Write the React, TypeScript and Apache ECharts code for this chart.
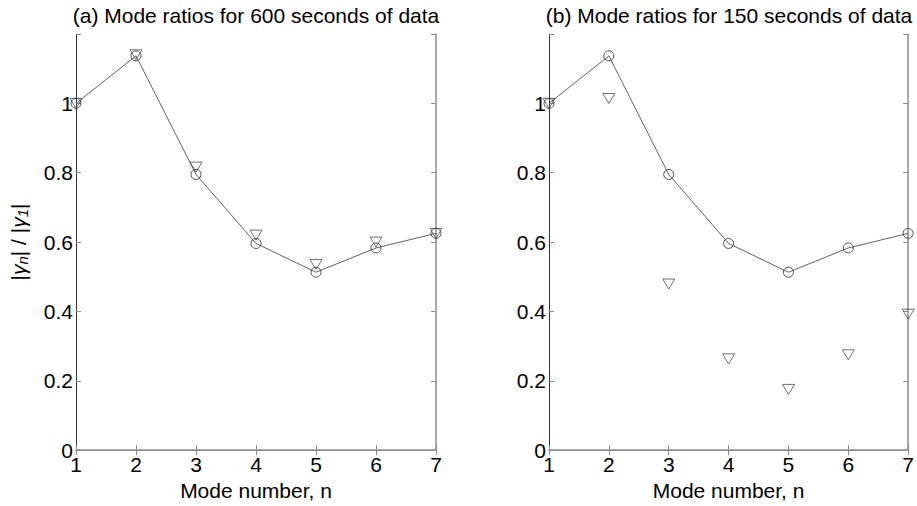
import React, { useEffect, useRef } from "react";
import * as echarts from "echarts";

const modeNumbers = [1, 2, 3, 4, 5, 6, 7];
const ratiosReference = [1.0, 1.137, 0.795, 0.596, 0.513, 0.583, 0.625];
const ratios600 = [1.0, 1.14, 0.816, 0.62, 0.535, 0.6, 0.625];
const ratios150 = [1.0, 1.014, 0.479, 0.263, 0.175, 0.275, 0.392];
const titles = [
  "(a) Mode ratios for 600 seconds of data",
  "(b) Mode ratios for 150 seconds of data",
];
const xName = "Mode number, n";

const FONT = "Liberation Sans, Arial, sans-serif";
const FS = 21;
const TXT = "#000";
const LINE = "#3a3a3a";

export default function App() {
  const ref = useRef<HTMLDivElement>(null);
  useEffect(() => {
    if (!ref.current) return;
    const chart = echarts.init(ref.current, undefined, { renderer: "svg" });
    const grids = [
      { left: 76, right: 481, top: 34, bottom: 53 },
      { left: 549, right: 8, top: 34, bottom: 53 },
    ];
    const fmtY = (v: number) => (v > 1.1 ? "" : String(Math.round(v * 10) / 10));
    const xAxes: any[] = [];
    const yAxes: any[] = [];
    grids.forEach((_, gi) => {
      xAxes.push({
        type: "value",
        gridIndex: gi,
        min: 1,
        max: 7,
        interval: 1,
        position: "bottom",
        name: xName,
        nameLocation: "middle",
        nameGap: 27,
        nameTextStyle: { fontFamily: FONT, fontSize: FS, color: TXT },
        axisLine: { show: true, lineStyle: { color: "#8c8c8c", width: 1.5 } },
        axisTick: { show: true, inside: true, length: 5, lineStyle: { color: "#8c8c8c" } },
        axisLabel: { fontFamily: FONT, fontSize: FS, color: TXT, margin: 4 },
        splitLine: { show: false },
      });
      xAxes.push({
        type: "value",
        gridIndex: gi,
        min: 1,
        max: 7,
        interval: 1,
        position: "top",
        axisLine: { show: true, lineStyle: { color: "#8c8c8c", width: 1 } },
        axisTick: { show: true, inside: true, length: 5, lineStyle: { color: "#8c8c8c" } },
        axisLabel: { show: false },
        splitLine: { show: false },
      });
      yAxes.push({
        type: "value",
        gridIndex: gi,
        min: 0,
        max: 1.2,
        interval: 0.2,
        position: "left",
        name: gi === 0 ? "|{g|γ}{s|n}| / |{g|γ}{s|1}|" : "",
        nameLocation: "middle",
        nameGap: 46,
        nameTextStyle: {
          fontFamily: FONT,
          fontSize: FS,
          color: TXT,
          rich: {
            g: { fontFamily: FONT, fontSize: FS, fontStyle: "italic", color: TXT },
            s: {
              fontFamily: FONT,
              fontSize: 15,
              fontStyle: "italic",
              color: TXT,
              padding: [9, 0, 0, 0],
            },
          },
        },
        axisLine: { show: true, lineStyle: { color: "#333", width: 1 } },
        axisTick: { show: true, inside: true, length: 5, lineStyle: { color: "#8c8c8c" } },
        axisLabel: { fontFamily: FONT, fontSize: FS, color: TXT, margin: 3, formatter: fmtY },
        splitLine: { show: false },
      });
      yAxes.push({
        type: "value",
        gridIndex: gi,
        min: 0,
        max: 1.2,
        interval: 0.2,
        position: "right",
        axisLine: { show: true, lineStyle: { color: "#8c8c8c", width: 1.5 } },
        axisTick: { show: true, inside: true, length: 5, lineStyle: { color: "#8c8c8c" } },
        axisLabel: { show: false },
        splitLine: { show: false },
      });
    });
    const pairs = (ys: number[]) => modeNumbers.map((n, i) => [n, ys[i]]);
    const series: any[] = [];
    [ratios600, ratios150].forEach((tri, gi) => {
      series.push({
        type: "line",
        xAxisIndex: gi * 2,
        yAxisIndex: gi * 2,
        data: pairs(ratiosReference),
        symbol: "circle",
        symbolSize: 10,
        showSymbol: true,
        lineStyle: { color: LINE, width: 0.8 },
        itemStyle: { color: "rgba(0,0,0,0)", borderColor: LINE, borderWidth: 0.9 },
        z: 3,
      });
      series.push({
        type: "scatter",
        xAxisIndex: gi * 2,
        yAxisIndex: gi * 2,
        data: pairs(tri),
        symbol: "triangle",
        symbolRotate: 180,
        symbolSize: [12, 10],
        itemStyle: { color: "rgba(0,0,0,0)", borderColor: LINE, borderWidth: 0.9 },
        z: 4,
      });
    });
    chart.setOption({
      animation: false,
      backgroundColor: "#fff",
      title: titles.map((t, i) => ({
        text: t,
        left: i === 0 ? 251 : 724,
        top: 0,
        textAlign: "center",
        textStyle: { fontFamily: FONT, fontSize: FS, fontWeight: "normal", color: TXT },
      })),
      grid: grids,
      xAxis: xAxes,
      yAxis: yAxes,
      series,
    });
    return () => chart.dispose();
  }, []);
  return (
    <div
      ref={ref}
      style={{ position: "fixed", left: 0, top: 0, width: 917, height: 506, background: "#fff" }}
    />
  );
}
